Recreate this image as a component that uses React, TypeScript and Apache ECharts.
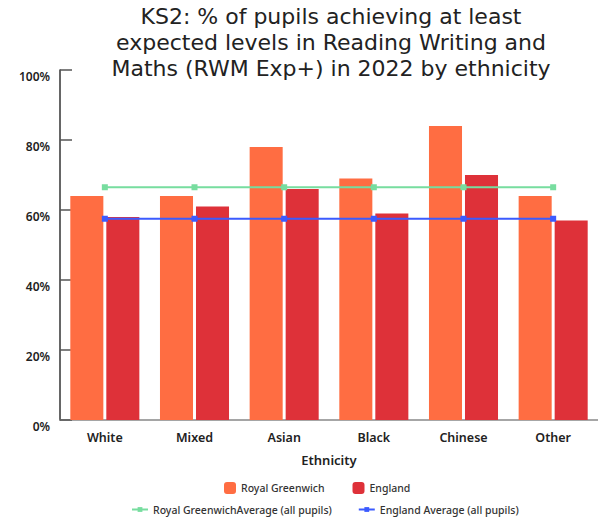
import React, { useEffect, useRef } from "react";
import * as echarts from "echarts";

const categories = ["White", "Mixed", "Asian", "Black", "Chinese", "Other"];
const royalGreenwich = [64, 64, 78, 69, 84, 64];
const england = [58, 61, 66, 59, 70, 57];
const rgAverage = [66.5, 66.5, 66.5, 66.5, 66.5, 66.5];
const englandAverage = [57.5, 57.5, 57.5, 57.5, 57.5, 57.5];
const titleText = "KS2: % of pupils achieving at least\nexpected levels in Reading Writing and\nMaths (RWM Exp+) in 2022 by ethnicity";

const FONT = "'Noto Sans', sans-serif";

export default function App() {
  const ref = useRef<HTMLDivElement>(null);
  useEffect(() => {
    document.body.style.margin = "0";
    const chart = echarts.init(ref.current!, null, { renderer: "svg" });
    chart.setOption({
      animation: false,
      textStyle: { fontFamily: FONT },
      title: {
        text: titleText,
        left: 331,
        textAlign: "center",
        top: 3,
        padding: 0,
        textStyle: { fontSize: 22, fontWeight: "normal", color: "#222", lineHeight: 26, fontFamily: "'DejaVu Sans', sans-serif" },
      },
      legend: [
        {
          data: ["Royal Greenwich", "England"],
          top: 477,
          left: 219,
          itemWidth: 12,
          itemHeight: 12,
          itemGap: 28,
          textStyle: { fontSize: 10.5, color: "#333", fontWeight: 500, fontFamily: FONT },
        },
        {
          data: ["Royal GreenwichAverage (all pupils)", "England Average (all pupils)"],
          top: 499,
          left: 126,
          itemWidth: 16,
          itemHeight: 6,
          itemGap: 26,
          textStyle: { fontSize: 10.5, color: "#333", fontWeight: 500, fontFamily: FONT },
        },
      ],
      grid: { left: 60, top: 70, width: 540, height: 350, containLabel: false },
      xAxis: {
        type: "category",
        data: categories,
        name: "Ethnicity",
        nameLocation: "middle",
        nameGap: 33,
        nameTextStyle: { fontSize: 13, color: "#222", fontWeight: 600, fontFamily: FONT },
        axisLine: { lineStyle: { color: "#888", width: 1.5 } },
        axisTick: { inside: true, length: 9, lineStyle: { color: "#666" } },
        axisLabel: { fontSize: 12.5, color: "#222", fontWeight: 600, margin: 11, fontFamily: FONT },
      },
      yAxis: {
        type: "value",
        min: 0,
        max: 100,
        interval: 20,
        splitLine: { show: false },
        axisLine: { show: true, lineStyle: { color: "#333", width: 1.5 } },
        axisTick: { show: true, inside: true, length: 12, lineStyle: { color: "#555", width: 1.5 } },
        axisLabel: {
          formatter: "{value}%",
          fontSize: 12,
          color: "#222",
          fontWeight: 600,
          margin: 10,
          verticalAlign: "top",
          fontFamily: FONT,
        },
      },
      series: [
        {
          name: "Royal Greenwich",
          type: "bar",
          data: royalGreenwich,
          itemStyle: { color: "#FF6D42" },
          barGap: "9%",
          barCategoryGap: "23%",
        },
        {
          name: "England",
          type: "bar",
          data: england,
          itemStyle: { color: "#DE3139" },
        },
        {
          name: "Royal GreenwichAverage (all pupils)",
          type: "line",
          data: rgAverage,
          symbol: "rect",
          symbolSize: 6,
          itemStyle: { color: "#77DD9F" },
          lineStyle: { color: "#77DD9F", width: 2 },
        },
        {
          name: "England Average (all pupils)",
          type: "line",
          data: englandAverage,
          symbol: "rect",
          symbolSize: 6,
          itemStyle: { color: "#3B5BFF" },
          lineStyle: { color: "#3B5BFF", width: 2 },
        },
      ],
    });
    return () => chart.dispose();
  }, []);
  return <div ref={ref} style={{ width: 598, height: 518 }} />;
}
